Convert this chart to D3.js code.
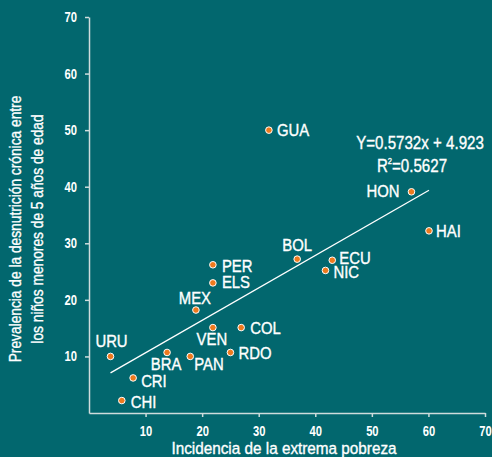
<!DOCTYPE html>
<html>
<head>
<meta charset="utf-8">
<script src="https://cdn.jsdelivr.net/npm/d3@7"></script>
<style>
  body { margin: 0; background: #02676e; }
  svg { display: block; }
  text { font-family: "Liberation Sans", Arial, sans-serif; fill: #fff; }
  .heavy { stroke: #fff; stroke-width: 0.35px; }
</style>
</head>
<body>
<div id="chart"></div>
<script>
// countries, x = extreme poverty incidence, y = chronic malnutrition under 5
var countries = ["GUA", "HON", "HAI", "BOL", "ECU", "NIC", "PER", "ELS", "MEX",
                 "VEN", "COL", "RDO", "PAN", "BRA", "URU", "CRI", "CHI"];
var poverty = [31.8, 57.0, 60.1, 36.8, 43.0, 41.8, 21.9, 21.9, 18.9,
               21.9, 26.9, 25.0, 17.9, 13.8, 3.8, 7.8, 5.8];
var malnutrition = [50.0, 39.1, 32.2, 27.2, 27.0, 25.2, 26.2, 23.0, 18.2,
                    15.1, 15.1, 10.7, 10.0, 10.7, 10.0, 6.2, 2.2];
var xTicks = [10, 20, 30, 40, 50, 60, 70];
var yTicks = [10, 20, 30, 40, 50, 60, 70];
var slope = 0.5732;
var intercept = 4.923;

// label placement: [dx, dy, anchor]
var place = {
  GUA: [8, 6, "start"], HON: [-12, 5, "end"], HAI: [7, 6, "start"],
  BOL: [0, -8, "middle"], ECU: [7, 4, "start"], NIC: [8, 8, "start"],
  PER: [9, 7, "start"], ELS: [9, 5, "start"], MEX: [-1, -6, "middle"],
  VEN: [-1, 17, "middle"], COL: [9, 6, "start"], RDO: [8, 7, "start"],
  PAN: [4, 14, "start"], BRA: [-1, 18, "middle"], URU: [1, -9, "middle"],
  CRI: [8, 9, "start"], CHI: [9, 7, "start"]
};

var svgWidth = 492;
var svgHeight = 457;

// the original font is a narrow sans, so squeeze text horizontally
function squeeze(sel, s) {
  sel.each(function() {
    var t = d3.select(this);
    var tx = +t.attr("x") || 0;
    var ty = +t.attr("y") || 0;
    t.attr("x", 0).attr("y", 0)
      .attr("transform", `translate(${tx}, ${ty}) scale(${s}, 1)`);
  });
}

var svg = d3.select("#chart")
  .append("svg")
  .attr("width", svgWidth)
  .attr("height", svgHeight);

svg.append("rect")
  .attr("width", svgWidth)
  .attr("height", svgHeight)
  .attr("fill", "#02676e");

var x = d3.scaleLinear().domain([0, 70]).range([89, 485]);
var y = d3.scaleLinear().domain([0, 70]).range([413, 17]);

var axisColor = "#cfdcdc";

var xAxis = svg.append("g")
  .attr("transform", `translate(0, ${y(0)})`)
  .call(d3.axisBottom(x).tickValues(xTicks).tickSize(4).tickSizeOuter(0).tickPadding(9));

var yAxis = svg.append("g")
  .attr("transform", `translate(${x(0)}, 0)`)
  .call(d3.axisLeft(y).tickValues(yTicks).tickSize(4).tickSizeOuter(0).tickPadding(8));

[xAxis, yAxis].forEach(function(g) {
  g.select(".domain").attr("stroke", axisColor).attr("stroke-width", 1.5);
  g.selectAll(".tick line").attr("stroke", axisColor).attr("stroke-width", 1.5);
  g.selectAll(".tick text")
    .attr("fill", "#fff")
    .style("font-size", "14px")
    .style("font-weight", "bold")
    .call(squeeze, 0.8);
});

var dataGroup = countries.map(function(c, i) {
  return { name: c, px: poverty[i], py: malnutrition[i] };
});

// trend line across the data range
var xMin = d3.min(poverty);
var xMax = d3.max(poverty);
svg.append("line")
  .attr("x1", x(xMin))
  .attr("y1", y(slope * xMin + intercept))
  .attr("x2", x(xMax))
  .attr("y2", y(slope * xMax + intercept))
  .attr("stroke", "#fff")
  .attr("stroke-width", 1.3);

svg.selectAll("circle")
  .data(dataGroup)
  .enter()
  .append("circle")
  .attr("cx", d => x(d.px))
  .attr("cy", d => y(d.py))
  .attr("r", 3.3)
  .attr("fill", "#ee7a1e")
  .attr("stroke", "#fff")
  .attr("stroke-width", 1);

svg.selectAll("text.lbl")
  .data(dataGroup)
  .enter()
  .append("text")
  .attr("class", "lbl heavy")
  .attr("x", d => x(d.px) + place[d.name][0])
  .attr("y", d => y(d.py) + place[d.name][1])
  .attr("text-anchor", d => place[d.name][2])
  .style("font-size", "16px")
  .text(d => d.name)
  .call(squeeze, 0.93);

// regression equation
var eq = svg.append("g").attr("text-anchor", "middle").attr("class", "heavy").style("font-size", "18px");
eq.append("text").attr("x", 420).attr("y", 149).text("Y=0.5732x + 4.923");
var r2 = eq.append("text").attr("x", 412).attr("y", 172);
r2.append("tspan").text("R");
r2.append("tspan").attr("dy", -8).style("font-size", "9px").text("2");
r2.append("tspan").attr("dy", 8).text("=0.5627");
eq.selectAll("text").call(squeeze, 0.84);

// axis titles
svg.append("text")
  .attr("class", "heavy")
  .attr("x", 284)
  .attr("y", 454)
  .attr("text-anchor", "middle")
  .style("font-size", "17px")
  .text("Incidencia de la extrema pobreza")
  .call(squeeze, 0.9);

var yTitle = svg.append("g")
  .attr("class", "heavy")
  .attr("transform", "translate(0, 229) rotate(-90)")
  .attr("text-anchor", "middle")
  .style("font-size", "16px");
yTitle.append("text").attr("x", 0).attr("y", 21).text("Prevalencia de la desnutrición crónica entre");
yTitle.append("text").attr("x", 0).attr("y", 43).text("los niños menores de 5 años de edad");
yTitle.selectAll("text").call(squeeze, 0.86);
</script>
</body>
</html>
